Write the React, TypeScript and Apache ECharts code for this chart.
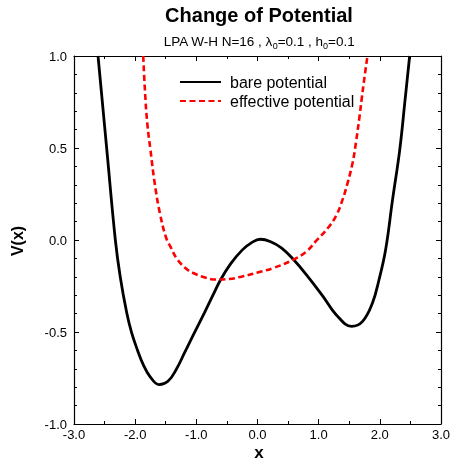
import React, { useEffect, useRef } from "react";
import * as echarts from "echarts";

// x positions and potential values
const bareX = [-2.607, -2.466, -2.324, -2.245, -2.137, -2.057, -1.965, -1.868, -1.76, -1.609, -1.464, -1.329, -1.194, -1.059, -0.87, -0.736, -0.601, -0.44, -0.251, -0.089, 0.046, 0.207, 0.396, 0.585, 0.801, 1.071, 1.286, 1.54, 1.718, 1.88, 1.987, 2.095, 2.208, 2.326, 2.413, 2.488];
const bareV = [1.0, 0.5, 0.0, -0.198, -0.397, -0.505, -0.596, -0.677, -0.741, -0.786, -0.768, -0.704, -0.614, -0.523, -0.397, -0.305, -0.215, -0.13, -0.055, -0.013, 0.004, -0.008, -0.044, -0.105, -0.189, -0.306, -0.406, -0.469, -0.442, -0.342, -0.216, -0.053, 0.218, 0.49, 0.761, 1.0];

const effX = [-1.868, -1.841, -1.803, -1.75, -1.679, -1.598, -1.496, -1.41, -1.329, -1.194, -1.059, -0.844, -0.682, -0.466, -0.251, 0.008, 0.262, 0.585, 0.801, 0.962, 1.151, 1.286, 1.394, 1.475, 1.556, 1.61, 1.664, 1.707, 1.748, 1.798];
const effV = [1.0, 0.819, 0.638, 0.49, 0.305, 0.15, 0.015, -0.045, -0.096, -0.148, -0.178, -0.205, -0.215, -0.212, -0.198, -0.176, -0.152, -0.107, -0.062, -0.004, 0.065, 0.132, 0.222, 0.312, 0.421, 0.53, 0.66, 0.775, 0.88, 1.0];

const xTicks = { min: -3, max: 3, interval: 1 };
const yTicks = { min: -1, max: 1, interval: 0.5 };

const titleText = "Change of Potential";
const seriesNames = ["bare potential", "effective potential"];

const FONT = "'Liberation Sans', Arial, sans-serif";

export default function App() {
  const ref = useRef<HTMLDivElement>(null);
  useEffect(() => {
    if (!ref.current) return;
    const chart = echarts.init(ref.current, null, { renderer: "svg" });
    const axisCommon = {
      axisLine: { show: true, onZero: false, lineStyle: { color: "#000", width: 1.2 } },
      axisTick: { show: true, inside: true, length: 5, lineStyle: { color: "#000" } },
      splitLine: { show: false },
    };
    chart.setOption({
      animation: false,
      textStyle: { fontFamily: FONT },
      grid: { left: 74, right: 8, top: 56, bottom: 37, containLabel: false },
      legend: {
        orient: "vertical",
        left: 179,
        top: 74,
        padding: 0,
        itemWidth: 41,
        itemHeight: 16,
        itemGap: 3,
        data: seriesNames,
        itemStyle: { opacity: 0 },
        textStyle: { fontFamily: FONT, fontSize: 16, color: "#000", lineHeight: 16, padding: [0, 0, 0, 4] },
      },
      xAxis: [
        {
          type: "value",
          position: "bottom",
          ...xTicks,
          ...axisCommon,
          minorTick: { show: true, splitNumber: 2, length: 3, lineStyle: { color: "#000" } },
          axisLabel: {
            margin: 4,
            fontSize: 13,
            color: "#000",
            fontFamily: FONT,
            formatter: (v: number) => v.toFixed(1),
          },
        },
        {
          type: "value",
          position: "top",
          ...xTicks,
          ...axisCommon,
          minorTick: { show: true, splitNumber: 2, length: 3, lineStyle: { color: "#000" } },
          axisLabel: { show: false },
        },
      ],
      yAxis: [
        {
          type: "value",
          position: "left",
          ...yTicks,
          ...axisCommon,
          minorTick: { show: true, splitNumber: 5, length: 3, lineStyle: { color: "#000" } },
          axisLabel: {
            margin: 7,
            fontSize: 13,
            color: "#000",
            fontFamily: FONT,
            formatter: (v: number) => v.toFixed(1),
          },
        },
        {
          type: "value",
          position: "right",
          ...yTicks,
          ...axisCommon,
          minorTick: { show: true, splitNumber: 5, length: 3, lineStyle: { color: "#000" } },
          axisLabel: { show: false },
        },
      ],
      series: [
        {
          name: seriesNames[0],
          type: "line",
          smooth: 0.4,
          showSymbol: false,
          symbol: "none",
          data: bareX.map((x, i) => [x, bareV[i]]),
          lineStyle: { color: "#000", width: 2.8 },
          itemStyle: { color: "#000" },
        },
        {
          name: seriesNames[1],
          type: "line",
          smooth: 0.45,
          showSymbol: false,
          symbol: "none",
          data: effX.map((x, i) => [x, effV[i]]),
          lineStyle: { color: "#ff0000", width: 2.6, type: [6, 3.5] },
          itemStyle: { color: "#ff0000" },
        },
      ],
      graphic: [
        {
          type: "text",
          x: 259,
          y: 15,
          style: {
            text: titleText,
            font: `bold 20px ${FONT}`,
            fill: "#000",
            textAlign: "center",
            textVerticalAlign: "middle",
          },
        },
        {
          type: "text",
          x: 259,
          y: 34,
          style: {
            text: "{n|LPA W-H N=16 , λ}{s|0}{n|=0.1 , h}{s|0}{n|=0.1}",
            textAlign: "center",
            textVerticalAlign: "top",
            fill: "#000",
            rich: {
              n: { fontFamily: FONT, fontSize: 13.5, lineHeight: 14, verticalAlign: "top", fill: "#000", color: "#000" },
              s: { fontFamily: FONT, fontSize: 9, lineHeight: 16.5, verticalAlign: "bottom", fill: "#000", color: "#000" },
            },
          },
        },
        {
          type: "text",
          x: 17,
          y: 241,
          rotation: Math.PI / 2,
          style: {
            text: "V(x)",
            font: `bold 16px ${FONT}`,
            fill: "#000",
            textAlign: "center",
            textVerticalAlign: "middle",
          },
        },
        {
          type: "text",
          x: 259,
          y: 452,
          style: {
            text: "x",
            font: `bold 17px ${FONT}`,
            fill: "#000",
            textAlign: "center",
            textVerticalAlign: "middle",
          },
        },
      ],
    });
    return () => chart.dispose();
  }, []);
  return <div ref={ref} style={{ position: "fixed", left: 0, top: 0, width: 453, height: 461 }} />;
}
